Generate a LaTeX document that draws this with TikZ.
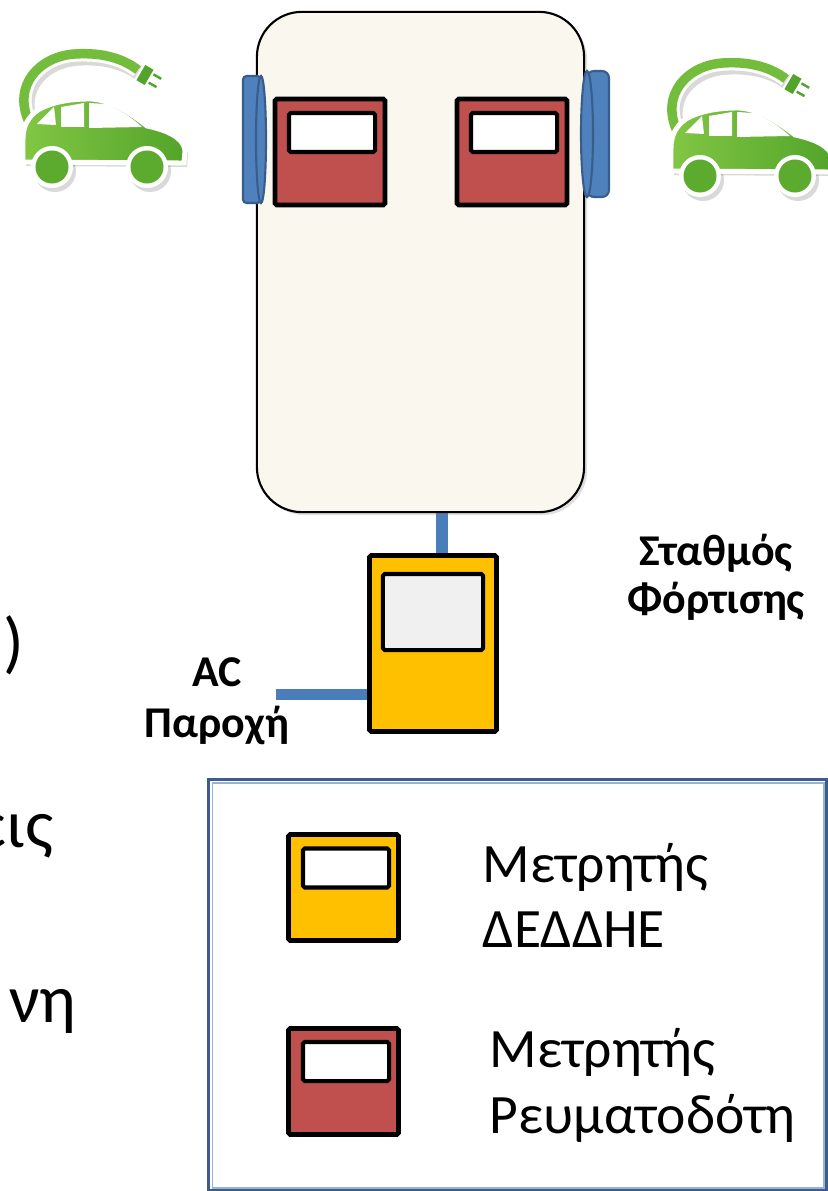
\documentclass[tikz,border=0pt]{standalone}
\usepackage{fontspec}
\setmainfont{Carlito}
\usetikzlibrary{shadows, backgrounds}

\begin{document}
\begin{tikzpicture}[x=0.01cm, y=-0.01cm,
    meter/.style={draw=black, line width=1.35pt, rounded corners=0.5pt, minimum width=1.10cm, minimum height=1.06cm, inner sep=0pt},
    screen/.style={draw=black, line width=1.15pt, rounded corners=0.5pt, fill=white, minimum width=0.86cm, minimum height=0.39cm, inner sep=0pt},
    link/.style={draw=colorLink, line width=3.4pt},
    socket/.style={fill=colorSocket, draw=colorSocketEdge, line width=0.6pt},
    lbl/.style={font=\bfseries\fontsize{12.5}{15}\selectfont, inner sep=0pt, anchor=base},
    key/.style={font=\fontsize{15.8}{19}\selectfont, inner sep=0pt, anchor=base west},
    slide/.style={font=\fontsize{19.4}{23}\selectfont, inner sep=0pt, anchor=base east}]
    \definecolor{colorRed}{RGB}{192,80,77}
    \definecolor{colorYellow}{RGB}{255,192,0}
    \definecolor{colorScreen}{RGB}{240,240,240}
    \definecolor{colorStation}{RGB}{250,248,238}
    \definecolor{colorLink}{RGB}{74,126,187}
    \definecolor{colorSocket}{RGB}{79,129,189}
    \definecolor{colorSocketEdge}{RGB}{56,93,138}
    \definecolor{colorFrame}{RGB}{60,92,140}
    \definecolor{colorFrameLight}{RGB}{149,179,215}
    \definecolor{colorCarLight}{RGB}{130,198,68}
    \definecolor{colorCarDark}{RGB}{82,164,42}
    \useasboundingbox (0,0) rectangle (827,1191);
    % Cars
    \foreach \dx/\dy in {0/0, 648/9} {
    \begin{scope}[shift={(\dx,\dy)}]
        \begin{scope}[shift={(3,4)}, black, opacity=0.15]
            \draw[line width=4.4pt] (29,122) .. controls (12,85) and (40,56) .. (75,54) .. controls (105,52) and (125,60) .. (138,70);
            \fill (23,162) -- (23,140) .. controls (23,126) and (28,117) .. (38,110) .. controls (52,102) and (70,99) .. (90,99) .. controls (112,100) and (130,113) .. (147,126) .. controls (166,130) and (183,137) .. (185,150) -- (184,163) -- cycle;
            \fill (52,167) circle (0.21cm) (147,167) circle (0.21cm);
        \end{scope}
        \draw[white, line width=4.4pt] (29,122) .. controls (12,85) and (40,56) .. (75,54) .. controls (105,52) and (125,60) .. (138,70);
        \draw[colorCarLight!70!colorCarDark, line width=2.7pt] (29,122) .. controls (12,85) and (40,56) .. (75,54) .. controls (105,52) and (125,60) .. (138,70);
        \path[draw=white, line width=1.4pt, left color=colorCarLight, right color=colorCarDark] (23,162) -- (23,140) .. controls (23,126) and (28,117) .. (38,110) .. controls (52,102) and (70,99) .. (90,99) .. controls (112,100) and (130,113) .. (147,126) .. controls (166,130) and (183,137) .. (185,150) -- (184,163) -- cycle;
        \fill[white] (37,124) -- (54,107) -- (56,125) -- cycle;
        \fill[white] (61,107) -- (84,103) -- (84,127) -- (61,127) -- cycle;
        \fill[white] (89,103) -- (106,104) .. controls (120,109) and (132,118) .. (142,127) -- (89,128) -- cycle;
        \fill[white] (52,167) circle (0.21cm) (147,167) circle (0.21cm);
        \fill[colorCarDark!80!colorCarLight] (52,167) circle (0.165cm) (147,167) circle (0.165cm);
        \begin{scope}[shift={(145,75)}, rotate=-30]
            \draw[white, line width=0.6pt, fill=colorCarDark] (-6,-10) rectangle (6,10);
            \draw[white, line width=0.5pt, fill=colorCarDark] (6,-7) rectangle (17,-2.5) (6,2.5) rectangle (17,7);
        \end{scope}
    \end{scope}
    }
    % Charging station
    \node[draw=black, line width=0.6pt, fill=colorStation, rounded corners=0.45cm, minimum width=3.27cm, minimum height=5.0cm, drop shadow={opacity=0.25, shadow xshift=0.03cm, shadow yshift=-0.03cm}] (station) at (420.5,262) {};
    \draw[socket, rounded corners=1pt] (243,76) rectangle (261,203);
    \draw[socket] (261,139.5) ellipse [x radius=0.05cm, y radius=0.635cm];
    \draw[socket, rounded corners=2pt] (587,71) rectangle (609,197);
    \draw[socket] (587,134) ellipse [x radius=0.06cm, y radius=0.63cm];
    \node[meter, fill=colorRed] (meterL) at (330,152) {};
    \node[screen] (screenL) at (332,132.5) {};
    \node[meter, fill=colorRed] (meterR) at (512,152) {};
    \node[screen] (screenR) at (514,132.5) {};
    % Grid meter
    \node[meter, fill=colorYellow, minimum width=1.27cm, minimum height=1.76cm] (dedhe) at (433,643.5) {};
    \node[screen, fill=colorScreen, minimum width=1.00cm, minimum height=0.76cm] (dedheScreen) at (433,612) {};
    \begin{scope}[on background layer]
        \fill[white] (0,0) rectangle (827,1191);
        \coordinate (feed) at (442,512);
        \draw[link] (feed) -- (feed |- dedhe.north);
        \coordinate (acIn) at (276,694.5);
        \draw[link] (acIn) -- (acIn -| dedhe.west);
    \end{scope}
    \node[lbl] (stationA) at (716,565) {Σταθμός};
    \node[lbl] (stationB) at (716,613) {Φόρτισης};
    \node[lbl] (acA) at (217,686) {AC};
    \node[lbl] (acB) at (217,737) {Παροχή};
    % Slide text cut at the left edge
    \begin{scope}
        \clip (0,0) rectangle (827,1191);
        \node[slide] (fragA) at (25,665) {)};
        \node[slide] (fragB) at (54,847) {εις};
        \node[slide] (fragC) at (77,1022) {νη};
    \end{scope}
    % Legend
    \draw[draw=colorFrame, line width=0.85pt, fill=white] (208.5,779.5) rectangle (826.5,1190.5);
    \draw[draw=colorFrameLight, line width=0.45pt] (212.5,783) rectangle (824,1188);
    \node[meter, fill=colorYellow] (keyDedhe) at (343.5,887.5) {};
    \node[screen] (keyDedheScreen) at (346,868) {};
    \node[meter, fill=colorRed] (keySocket) at (343.5,1081.5) {};
    \node[screen] (keySocketScreen) at (346,1061.5) {};
    \node[key] (keyDedheA) at (482,882) {Μετρητής};
    \node[key] (keyDedheB) at (482,947) {ΔΕΔΔΗΕ};
    \node[key] (keySocketA) at (489,1067) {Μετρητής};
    \node[key] (keySocketB) at (489,1133) {Ρευματοδότη};
\end{tikzpicture}
\end{document}
